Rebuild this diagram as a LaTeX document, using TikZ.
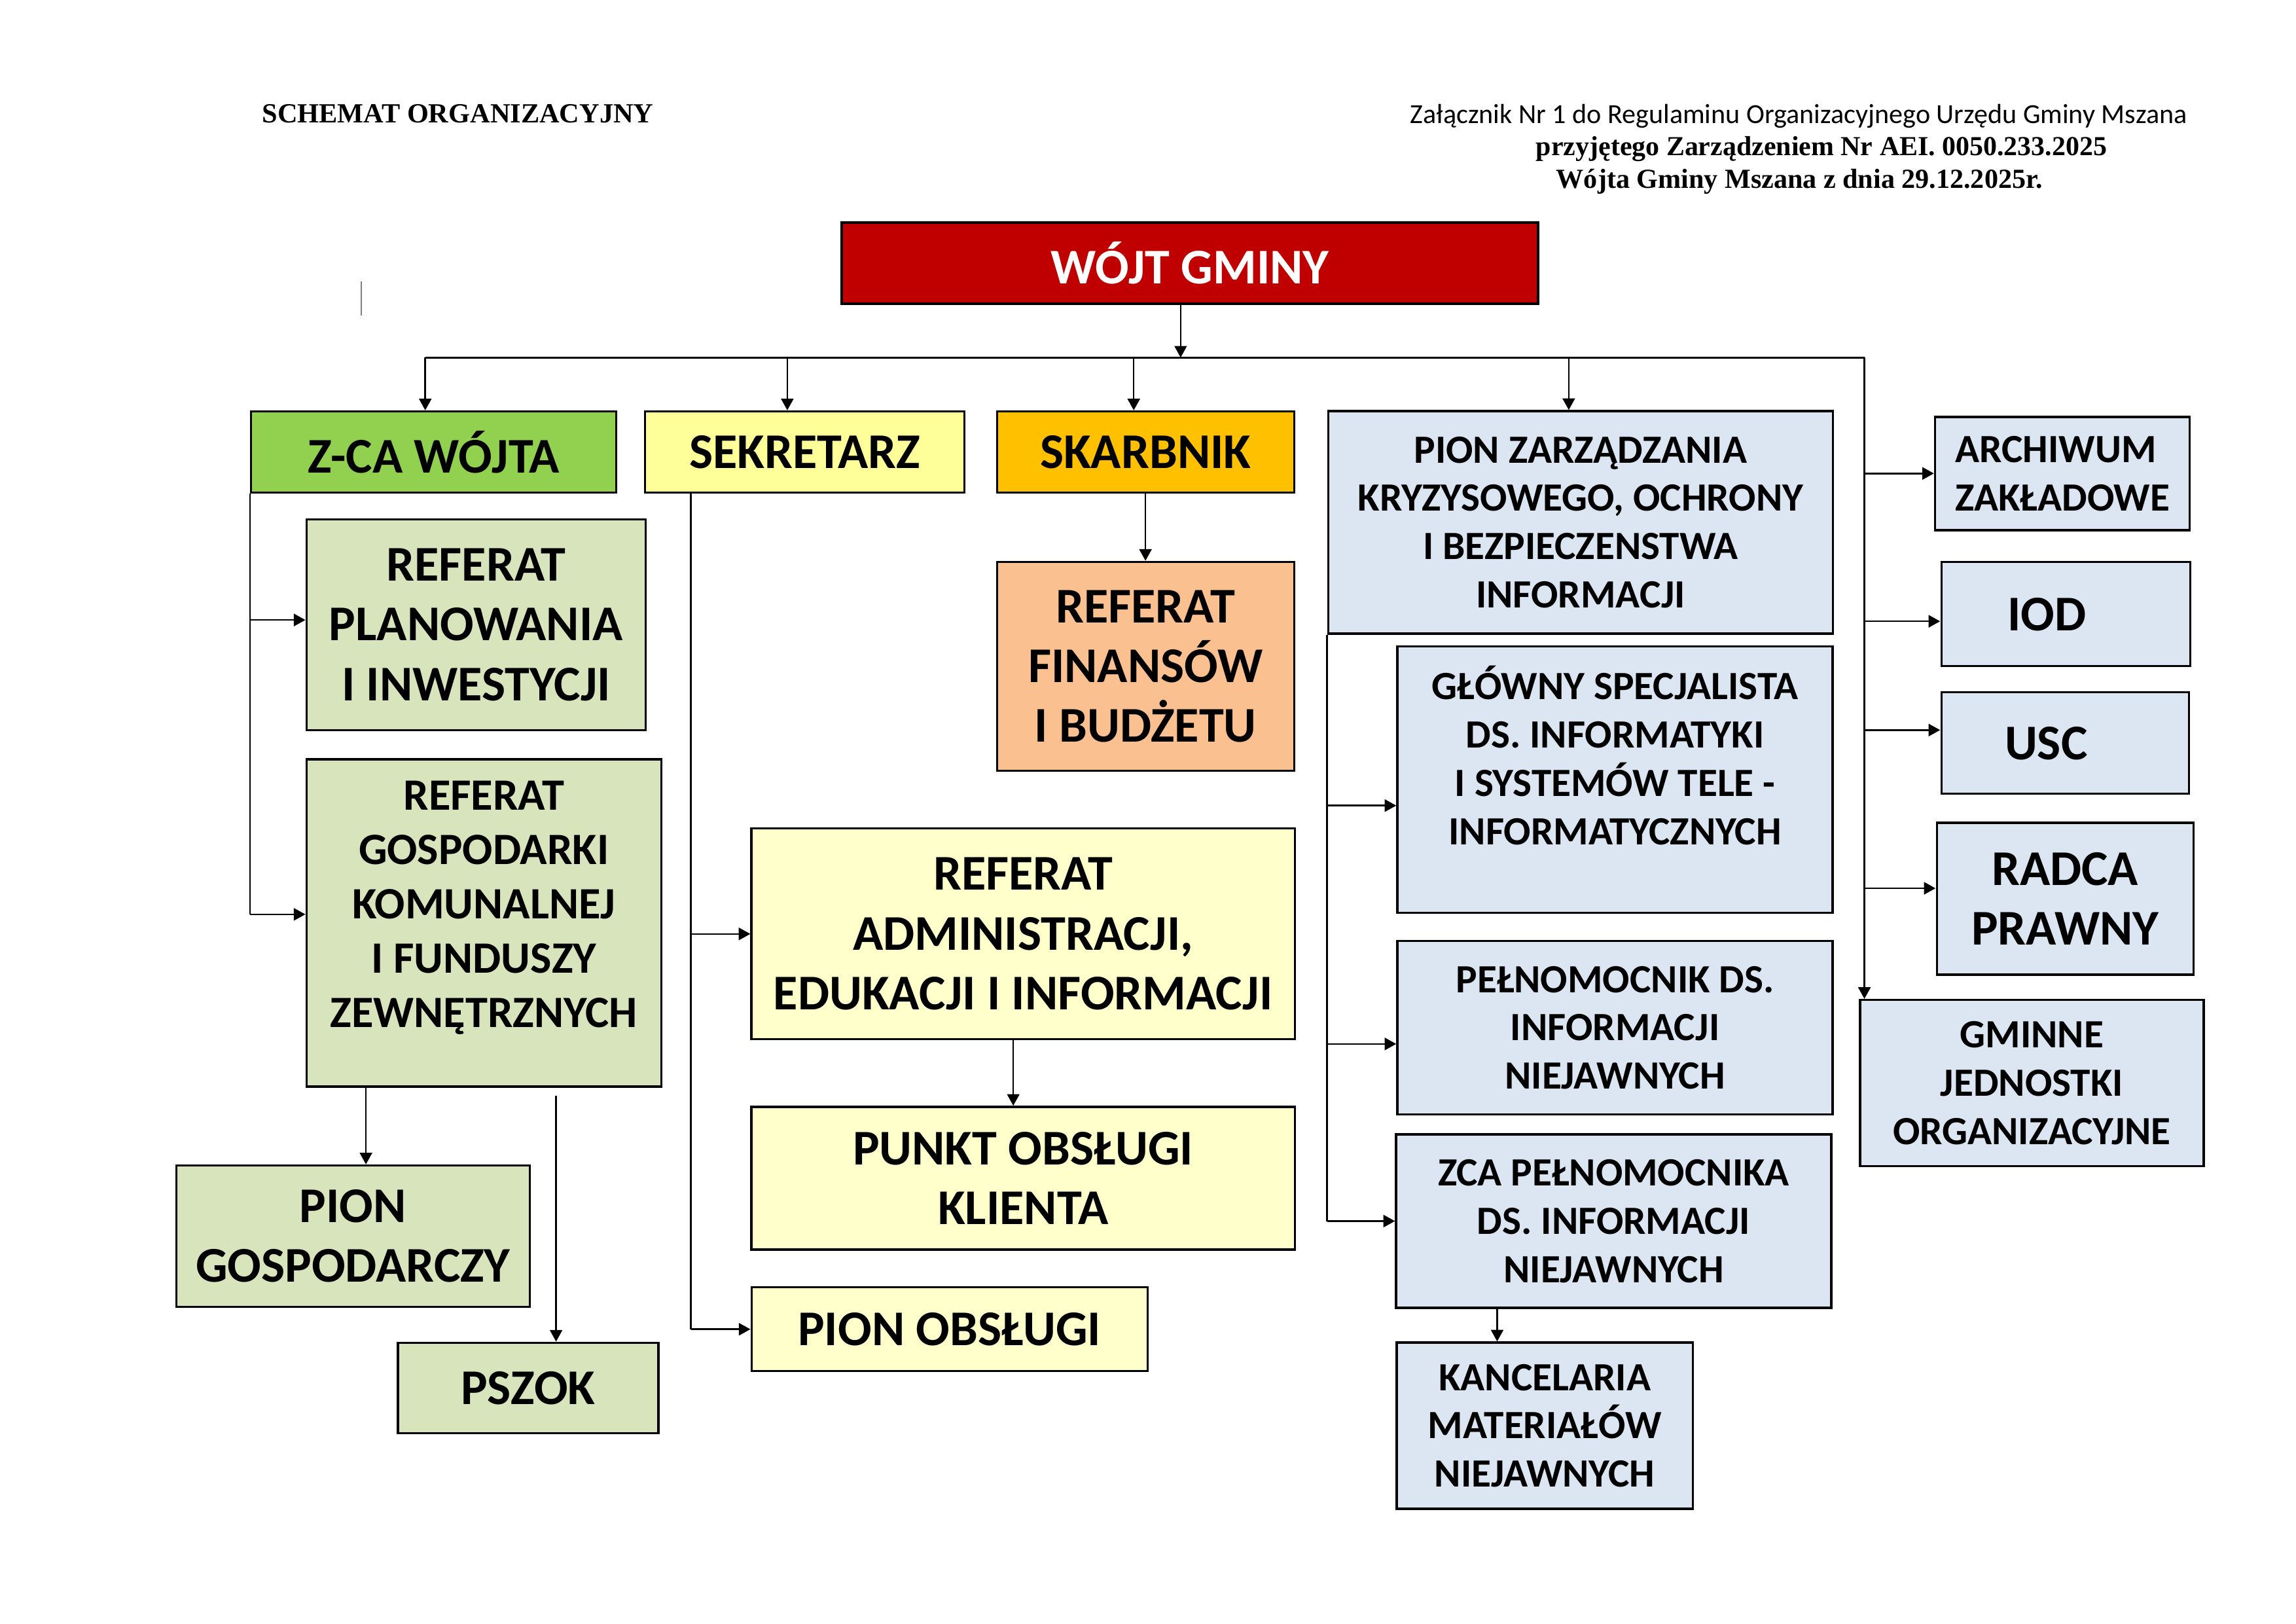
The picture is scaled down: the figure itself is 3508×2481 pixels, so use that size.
\documentclass[tikz,border=0pt]{standalone}
\usepackage{fontspec}
\setmainfont{Carlito}
\newfontfamily\timesfont{Liberation Serif}
\usetikzlibrary{arrows.meta}
\newcommand{\px}{0.0846667mm}
\definecolor{wojtred}{HTML}{C00000}
\definecolor{zcagreen}{HTML}{92D050}
\definecolor{sekyellow}{HTML}{FFFF99}
\definecolor{skarborange}{HTML}{FFC000}
\definecolor{paleblue}{HTML}{DCE6F2}
\definecolor{palegreen}{HTML}{D8E4BC}
\definecolor{peach}{HTML}{FAC090}
\definecolor{paleyellow}{HTML}{FFFFCC}

\begin{document}
\begin{tikzpicture}[x=\px, y=-\px,
    box/.style={draw, line width=0.8pt, align=center, inner sep=0pt,
      font=\bfseries\fontsize{18.4}{22}\selectfont},
    midtext/.style={font=\bfseries\fontsize{16.5}{20}\selectfont},
    smalltext/.style={font=\bfseries\fontsize{14.75}{17.8}\selectfont},
    wh/.style 2 args={minimum width=#1*\px, minimum height=#2*\px},
    link/.style={line width=0.6pt},
    arr/.style={link, -{Triangle[length=1.5mm,width=1.6mm]}}]
  \useasboundingbox (0,0) rectangle (3508,2481);
  \begin{scope}[scale=0.995]

  % naglowek
  \node[font=\timesfont\bfseries\fontsize{10.2}{12}\selectfont] (title) at (703,175) {SCHEMAT ORGANIZACYJNY};
  \node[font=\fontsize{10.15}{12}\selectfont] (annexa) at (2762,178) {Załącznik Nr 1 do Regulaminu Organizacyjnego Urzędu Gminy Mszana};
  \node[font=\timesfont\bfseries\fontsize{10.1}{12}\selectfont] (annexb) at (2797,229) {przyjętego Zarządzeniem Nr AEI. 0050.233.2025};
  \node[font=\timesfont\bfseries\fontsize{10.15}{12}\selectfont] (annexc) at (2763,279) {Wójta Gminy Mszana z dnia 29.12.2025r.};
  \draw[gray, line width=0.4pt] (555,432) -- (555,484);

  % kierownictwo
  \node[box, fill=wojtred, text=white, wh={1064}{124}] (wojt) at (1827,404) {WÓJT GMINY};
  \node[box, fill=zcagreen, wh={558}{124}] (zca) at (666,694) {Z-CA WÓJTA};
  \node[box, fill=sekyellow, wh={488}{124}] (sekr) at (1236,694) {SEKRETARZ};
  \node[box, fill=skarborange, wh={454}{124}] (skarb) at (1759,694) {SKARBNIK};
  \node[box, smalltext, fill=paleblue, wh={771}{340}] (pionzk) at (2427,802)
    {PION ZARZĄDZANIA\\KRYZYSOWEGO, OCHRONY\\I BEZPIECZENSTWA\\INFORMACJI};

  % stanowiska samodzielne
  \node[box, smalltext, fill=paleblue, wh={389}{173}, align=left] (archiwum) at (3167,727) {ARCHIWUM\\ZAKŁADOWE};
  \node[box, fill=paleblue, wh={380}{159}] (iod) at (3172,943) {IOD\hspace*{4.9mm}};
  \node[box, fill=paleblue, wh={378}{155}] (usc) at (3171,1141) {USC\hspace*{4.9mm}};
  \node[box, fill=paleblue, wh={392}{232}] (radca) at (3171,1380) {RADCA\\PRAWNY};
  \node[box, smalltext, fill=paleblue, wh={525}{254}] (gminne) at (3120,1663) {GMINNE\\JEDNOSTKI\\ORGANIZACYJNE};

  % pion zastepcy
  \node[box, fill=palegreen, wh={518}{322}] (refplan) at (731,959) {REFERAT\\PLANOWANIA\\I INWESTYCJI};
  \node[box, midtext, fill=palegreen, wh={542}{500}] (refgosp) at (743,1417)
    {REFERAT\\GOSPODARKI\\KOMUNALNEJ\\I FUNDUSZY\\ZEWNĘTRZNYCH\\[-6pt]\mbox{}};
  \node[box, fill=palegreen, wh={540}{216}] (piongosp) at (542,1898) {PION\\GOSPODARCZY};
  \node[box, fill=palegreen, wh={398}{138}] (pszok) at (811,2131) {PSZOK};

  % skarbnik i sekretarz
  \node[box, fill=peach, wh={454}{319}] (reffin) at (1759,1023) {REFERAT\\FINANSÓW\\I BUDŻETU};
  \node[box, fill=paleyellow, wh={830}{322}] (refadm) at (1571,1434) {REFERAT\\ADMINISTRACJI,\\EDUKACJI I INFORMACJI};
  \node[box, fill=paleyellow, wh={830}{218}] (punkt) at (1571,1809) {PUNKT OBSŁUGI\\KLIENTA};
  \node[box, fill=paleyellow, wh={605}{128}] (pionobs) at (1458,2041) {PION OBSŁUGI};

  % pion zarzadzania kryzysowego
  \node[box, smalltext, fill=paleblue, wh={665}{407}] (glowny) at (2480,1197)
    {GŁÓWNY SPECJALISTA\\DS. INFORMATYKI\\I SYSTEMÓW TELE -\\INFORMATYCZNYCH\\\mbox{}};
  \node[box, smalltext, fill=paleblue, wh={665}{265}] (pelnom) at (2480,1578) {PEŁNOMOCNIK DS.\\INFORMACJI\\NIEJAWNYCH};
  \node[box, smalltext, fill=paleblue, wh={665}{265}] (zcapeln) at (2478,1875) {ZCA PEŁNOMOCNIKA\\DS. INFORMACJI\\NIEJAWNYCH};
  \node[box, smalltext, fill=paleblue, wh={452}{254}] (kanc) at (2372,2189) {KANCELARIA\\MATERIAŁÓW\\NIEJAWNYCH};

  % polaczenia
  \coordinate (busL) at ([xshift=-13*\px]zca.north |- 0,549);
  \coordinate (busR) at (2863,549);
  \draw[line width=0.8pt] (busL) -- (busR);
  \draw[arr] ([xshift=-14*\px]wojt.south) -- ([xshift=-14*\px]wojt.south |- busL);
  \foreach \n/\dx in {zca/-13,sekr/-27,skarb/-18,pionzk/-18}
    \draw[arr] ([xshift=\dx*\px]\n.north |- busL) -- ([xshift=\dx*\px]\n.north);

  \draw[arr] (busR) -- (busR |- gminne.north);
  \foreach \n/\dy in {archiwum/0,iod/-11,usc/20,radca/16} {
    \coordinate (tip) at ([yshift=\dy*\px]\n.west);
    \draw[arr] (busR |- tip) -- (tip);
  }

  \draw[link] (zca.south west) -- ([yshift=13*\px]zca.south west |- refgosp.west);
  \foreach \n/\dy in {refplan/7,refgosp/13} {
    \coordinate (tip) at ([yshift=\dy*\px]\n.west);
    \draw[arr] (zca.south west |- tip) -- (tip);
  }

  \coordinate (sekline) at ([xshift=72*\px]sekr.south west);
  \draw[link] (sekline) -- (sekline |- pionobs.west);
  \foreach \n in {refadm,pionobs}
    \draw[arr] (sekline |- \n.west) -- (\n.west);

  \draw[arr] (skarb.south) -- (reffin.north);
  \draw[arr] ([xshift=-15*\px]refadm.south) -- ([xshift=-15*\px]punkt.north);

  \coordinate (gospa) at ([xshift=93*\px]refgosp.south west);
  \coordinate (gospb) at ([shift={(385,13)}]refgosp.south west);
  \draw[arr] (gospa) -- (gospa |- piongosp.north);
  \draw[arr] (gospb) -- (gospb |- pszok.north);

  \draw[link] (pionzk.south west) -- (pionzk.south west |- zcapeln.west);
  \foreach \n/\dy in {glowny/-40,pelnom/-25,zcapeln/0} {
    \coordinate (tip) at ([yshift=\dy*\px]\n.west);
    \draw[arr] (pionzk.south west |- tip) -- (tip);
  }
  \coordinate (kanctop) at ([xshift=157*\px]zcapeln.south west);
  \draw[arr] (kanctop) -- (kanctop |- kanc.north);
  \end{scope}
\end{tikzpicture}
\end{document}
